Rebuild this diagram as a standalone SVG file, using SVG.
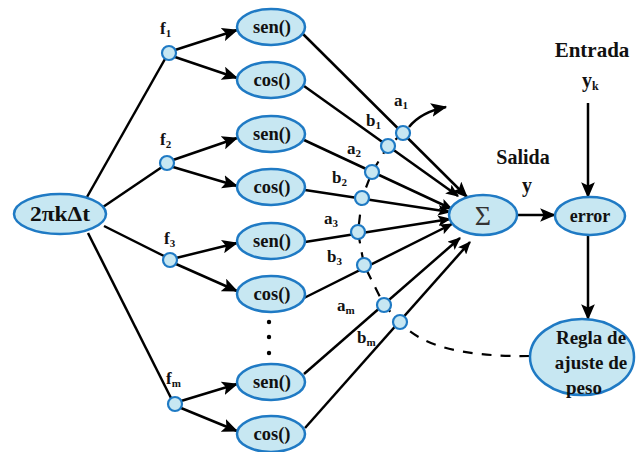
<svg xmlns="http://www.w3.org/2000/svg" width="636" height="452" viewBox="0 0 636 452">
  <defs>
    <style>
      .node { fill: #c7e7f2; stroke: #1f7ac4; stroke-width: 2.5; }
      .dot { fill: #c7e7f2; stroke: #1f7ac4; stroke-width: 2.2; }
      .edge { fill: none; stroke: #000; stroke-width: 2.5; }
      .dash { fill: none; stroke: #000; stroke-width: 2.2; stroke-dasharray: 10 9; }
      .lbl { font-weight: bold; fill: #111; }
      .c { text-anchor: middle; }
    </style>
    <marker id="arrow" viewBox="0 0 12 10" refX="11" refY="5" markerWidth="13" markerHeight="11" markerUnits="userSpaceOnUse" orient="auto">
      <path d="M0,0 L12,5 L0,10 L2.5,5 z" fill="#000"/>
    </marker>
    <marker id="arrowL" viewBox="0 0 14 12" refX="13" refY="6" markerWidth="16" markerHeight="14" markerUnits="userSpaceOnUse" orient="auto">
      <path d="M0,0 L14,6 L0,12 L3,6 z" fill="#000"/>
    </marker>
  </defs>

  <!-- connectors -->
  <g id="connectors">
    <!-- input to frequency taps -->
    <line class="edge" x1="87" y1="197" x2="165" y2="59"/>
    <line class="edge" x1="103" y1="207" x2="162" y2="167"/>
    <line class="edge" x1="104" y1="226" x2="164" y2="256"/>
    <line class="edge" x1="88" y1="233" x2="171" y2="398"/>
    <!-- frequency taps to sen/cos -->
    <line class="edge" marker-end="url(#arrowL)" x1="175" y1="50" x2="237" y2="30"/>
    <line class="edge" marker-end="url(#arrowL)" x1="175" y1="57" x2="237" y2="78"/>
    <line class="edge" marker-end="url(#arrowL)" x1="173" y1="160" x2="237" y2="138"/>
    <line class="edge" marker-end="url(#arrowL)" x1="173" y1="167" x2="237" y2="186"/>
    <line class="edge" marker-end="url(#arrowL)" x1="176" y1="258" x2="237" y2="243"/>
    <line class="edge" marker-end="url(#arrowL)" x1="176" y1="264" x2="237" y2="291"/>
    <line class="edge" marker-end="url(#arrowL)" x1="181" y1="401" x2="237" y2="384"/>
    <line class="edge" marker-end="url(#arrowL)" x1="181" y1="408" x2="237" y2="431"/>
    <!-- sen/cos to summation -->
    <line class="edge" marker-end="url(#arrowL)" x1="303" y1="34" x2="467" y2="197"/>
    <line class="edge" marker-end="url(#arrow)" x1="304" y1="86" x2="458" y2="196"/>
    <line class="edge" marker-end="url(#arrow)" x1="304" y1="140" x2="452" y2="209"/>
    <line class="edge" marker-end="url(#arrow)" x1="305" y1="190" x2="450" y2="212"/>
    <line class="edge" marker-end="url(#arrow)" x1="305" y1="242" x2="450" y2="219"/>
    <line class="edge" marker-end="url(#arrow)" x1="304" y1="298" x2="452" y2="224"/>
    <line class="edge" marker-end="url(#arrow)" x1="304" y1="374" x2="460" y2="238"/>
    <line class="edge" marker-end="url(#arrow)" x1="305" y1="428" x2="470" y2="242"/>
    <!-- weight update path -->
    <path class="dash" d="M403,133 L388,146 L372,172 L362,198 L358,232 L364,265 L384,305 L400,322 C420,345 460,357 531,356"/>
    <path class="edge" marker-end="url(#arrowL)" d="M409,127 Q421,112 446,107"/>
    <!-- output side -->
    <line class="edge" marker-end="url(#arrowL)" x1="518" y1="215" x2="555" y2="215"/>
    <line class="edge" marker-end="url(#arrowL)" x1="588" y1="103" x2="588" y2="197"/>
    <line class="edge" marker-end="url(#arrowL)" x1="588" y1="235" x2="588" y2="319"/>
  </g>

  <g font-family="'Liberation Serif', 'Times New Roman', serif">
    <!-- input node -->
    <g id="input">
      <ellipse class="node" cx="60" cy="214" rx="46" ry="20"/>
      <text class="lbl c" x="60" y="221" font-size="20" textLength="60" lengthAdjust="spacingAndGlyphs">2πkΔt</text>
    </g>

    <!-- frequency taps -->
    <g id="f1">
      <circle class="dot" cx="169" cy="53" r="7"/>
      <text class="lbl" x="160" y="34" font-size="17">f<tspan font-size="11" dy="3">1</tspan></text>
    </g>
    <g id="f2">
      <circle class="dot" cx="167" cy="163" r="7"/>
      <text class="lbl" x="160" y="145" font-size="17">f<tspan font-size="11" dy="3">2</tspan></text>
    </g>
    <g id="f3">
      <circle class="dot" cx="170" cy="260" r="7"/>
      <text class="lbl" x="164" y="244" font-size="17">f<tspan font-size="11" dy="3">3</tspan></text>
    </g>
    <g id="fm">
      <circle class="dot" cx="175" cy="404" r="7"/>
      <text class="lbl" x="166" y="384" font-size="17">f<tspan font-size="11" dy="3">m</tspan></text>
    </g>

    <!-- sen / cos nodes -->
    <g id="sen1"><ellipse class="node" cx="271" cy="27" rx="34" ry="18"/><text class="lbl c" x="272" y="33" font-size="18.5">sen()</text></g>
    <g id="cos1"><ellipse class="node" cx="271" cy="80" rx="34" ry="18"/><text class="lbl c" x="272" y="86" font-size="18.5">cos()</text></g>
    <g id="sen2"><ellipse class="node" cx="271" cy="134" rx="34" ry="18"/><text class="lbl c" x="272" y="140" font-size="18.5">sen()</text></g>
    <g id="cos2"><ellipse class="node" cx="271" cy="187" rx="34" ry="18"/><text class="lbl c" x="272" y="193" font-size="18.5">cos()</text></g>
    <g id="sen3"><ellipse class="node" cx="271" cy="241" rx="34" ry="18"/><text class="lbl c" x="272" y="247" font-size="18.5">sen()</text></g>
    <g id="cos3"><ellipse class="node" cx="271" cy="294" rx="34" ry="18"/><text class="lbl c" x="272" y="300" font-size="18.5">cos()</text></g>
    <g id="ellipsis">
      <circle cx="269" cy="322" r="2.2" fill="#000"/>
      <circle cx="269" cy="337" r="2.2" fill="#000"/>
      <circle cx="269" cy="353" r="2.2" fill="#000"/>
    </g>
    <g id="senm"><ellipse class="node" cx="271" cy="382" rx="34" ry="18"/><text class="lbl c" x="272" y="388" font-size="18.5">sen()</text></g>
    <g id="cosm"><ellipse class="node" cx="271" cy="434" rx="34" ry="18"/><text class="lbl c" x="272" y="440" font-size="18.5">cos()</text></g>

    <!-- weights -->
    <g id="a1"><circle class="dot" cx="403" cy="133" r="7"/><text class="lbl" x="394" y="106" font-size="17">a<tspan font-size="11" dy="3">1</tspan></text></g>
    <g id="b1"><circle class="dot" cx="388" cy="146" r="7"/><text class="lbl" x="366" y="126" font-size="17">b<tspan font-size="11" dy="3">1</tspan></text></g>
    <g id="a2"><circle class="dot" cx="372" cy="172" r="7"/><text class="lbl" x="347" y="154" font-size="17">a<tspan font-size="11" dy="3">2</tspan></text></g>
    <g id="b2"><circle class="dot" cx="362" cy="198" r="7"/><text class="lbl" x="332" y="183" font-size="17">b<tspan font-size="11" dy="3">2</tspan></text></g>
    <g id="a3"><circle class="dot" cx="358" cy="232" r="7"/><text class="lbl" x="324" y="224" font-size="17">a<tspan font-size="11" dy="3">3</tspan></text></g>
    <g id="b3"><circle class="dot" cx="364" cy="265" r="7"/><text class="lbl" x="327" y="262" font-size="17">b<tspan font-size="11" dy="3">3</tspan></text></g>
    <g id="am"><circle class="dot" cx="384" cy="305" r="7"/><text class="lbl" x="337" y="311" font-size="17">a<tspan font-size="11" dy="3">m</tspan></text></g>
    <g id="bm"><circle class="dot" cx="400" cy="322" r="7"/><text class="lbl" x="357" y="343" font-size="17">b<tspan font-size="11" dy="3">m</tspan></text></g>

    <!-- summation -->
    <g id="sum">
      <ellipse class="node" cx="483" cy="215" rx="34" ry="20"/>
      <text x="483" y="225" font-size="28" text-anchor="middle" fill="#333">Σ</text>
    </g>

    <!-- output labels -->
    <g id="salida">
      <text class="lbl c" x="523" y="164" font-size="20">Salida</text>
      <text class="lbl c" x="527" y="192" font-size="20">y</text>
    </g>
    <g id="entrada">
      <text class="lbl c" x="592" y="57" font-size="21">Entrada</text>
      <text class="lbl" x="582" y="87" font-size="20">y<tspan font-size="12" dy="3">k</tspan></text>
    </g>

    <!-- error -->
    <g id="error">
      <ellipse class="node" cx="590" cy="216" rx="35" ry="19"/>
      <text class="lbl c" x="590" y="222" font-size="18">error</text>
    </g>

    <!-- weight adjustment rule -->
    <g id="regla">
      <ellipse class="node" cx="582" cy="357" rx="52" ry="38"/>
      <text class="lbl c" x="591" y="344" font-size="19">Regla de</text>
      <text class="lbl c" x="591" y="369" font-size="19">ajuste de</text>
      <text class="lbl c" x="584" y="394" font-size="19">peso</text>
    </g>
  </g>
</svg>
